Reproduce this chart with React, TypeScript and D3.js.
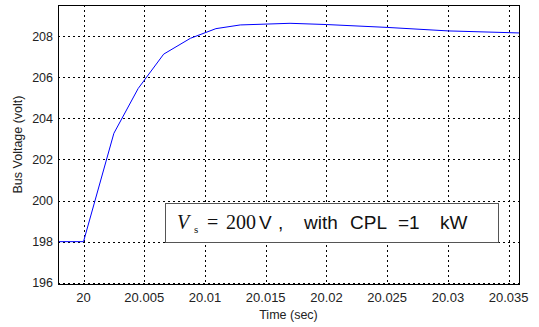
import * as React from 'react'
import * as d3 from 'd3'

// values
const timeValues = [19.9979, 20.0, 20.0025, 20.0045, 20.0066, 20.0088, 20.0109, 20.0129, 20.017, 20.02, 20.025, 20.03, 20.0359]
const voltValues = [198, 198, 203.27, 205.45, 207.12, 207.89, 208.36, 208.54, 208.62, 208.56, 208.42, 208.25, 208.15]
const xTicks = [20, 20.005, 20.01, 20.015, 20.02, 20.025, 20.03, 20.035]
const yTicks = [196, 198, 200, 202, 204, 206, 208]

const W = 539
const H = 327
const margin = { top: 5, right: 20, bottom: 43, left: 58 }

const sans = 'Arial, "Liberation Sans", sans-serif'
const serif = '"Liberation Serif", "DejaVu Serif", serif'

// pieces of the annotation: [text, x, font, italic, size, dy]
const noteParts: [string, number, string, boolean, number, number][] = [
    ['V', 177, serif, true, 20, 0],
    ['s', 194, serif, false, 11, 4],
    ['=', 207, serif, false, 20, 0],
    ['200', 226, serif, false, 20, 0],
    ['V', 259, sans, false, 19, 0],
    [',', 278, sans, false, 19, 0],
    ['with', 304, sans, false, 19, 0],
    ['CPL', 350, sans, false, 19, 0],
    ['=1', 398, sans, false, 19, 0],
    ['kW', 440, sans, false, 19, 0]
]

export default function App () {
    const x = d3.scaleLinear().domain([19.9979, 20.03585]).range([margin.left, W - margin.right])
    const y = d3.scaleLinear().domain([195.94, 209.51]).range([H - margin.bottom, margin.top])
    const pts = timeValues.map((t, i) => [t, voltValues[i]] as [number, number])
    const line = d3.line<[number, number]>().x(d => x(d[0])).y(d => y(d[1]))

    return <div style={{ position: 'fixed', left: 0, top: 0 }}>
        <svg width={W} height={H} style={{ display: 'block', background: '#fff' }}>
            <g stroke='#000' strokeWidth={1} strokeDasharray='2,3' shapeRendering='crispEdges'>
                {xTicks.map(t => <line key={'gx' + t} x1={Math.round(x(t)) + 0.5} x2={Math.round(x(t)) + 0.5} y1={margin.top} y2={H - margin.bottom} />)}
                {yTicks.map(t => <line key={'gy' + t} y1={Math.round(y(t)) + 0.5} y2={Math.round(y(t)) + 0.5} x1={margin.left} x2={W - margin.right} />)}
            </g>
            <path d={line(pts) || ''} fill='none' stroke='#0000ff' strokeWidth={1} />
            <rect x={margin.left + 0.5} y={margin.top + 0.5} width={W - margin.left - margin.right} height={H - margin.top - margin.bottom}
                fill='none' stroke='#000' strokeWidth={1} shapeRendering='crispEdges' />
            <g fontFamily={sans} fontSize={12.5} fill='#222'>
                {xTicks.map(t => <text key={'tx' + t} x={x(t)} y={302} textAnchor='middle' fontSize={13}>{d3.format('')(t)}</text>)}
                {yTicks.map(t => <text key={'ty' + t} x={53} y={y(t) + 4.5} textAnchor='end'>{t}</text>)}
                <text x={(margin.left + W - margin.right) / 2} y={319} textAnchor='middle'>Time (sec)</text>
                <text transform={`translate(22,${(margin.top + H - margin.bottom) / 2}) rotate(-90)`} textAnchor='middle'>Bus Voltage (volt)</text>
            </g>
            <rect x={165.5} y={203.5} width={333} height={39} fill='#fff' stroke='#555' strokeWidth={1} shapeRendering='crispEdges' />
            <g fill='#111'>
                {noteParts.map(([s, px, f, it, fs, dy], i) =>
                    <text key={'n' + i} x={px} y={229 + dy} fontFamily={f} fontStyle={it ? 'italic' : 'normal'} fontSize={fs}>{s}</text>)}
            </g>
        </svg>
    </div>
}
